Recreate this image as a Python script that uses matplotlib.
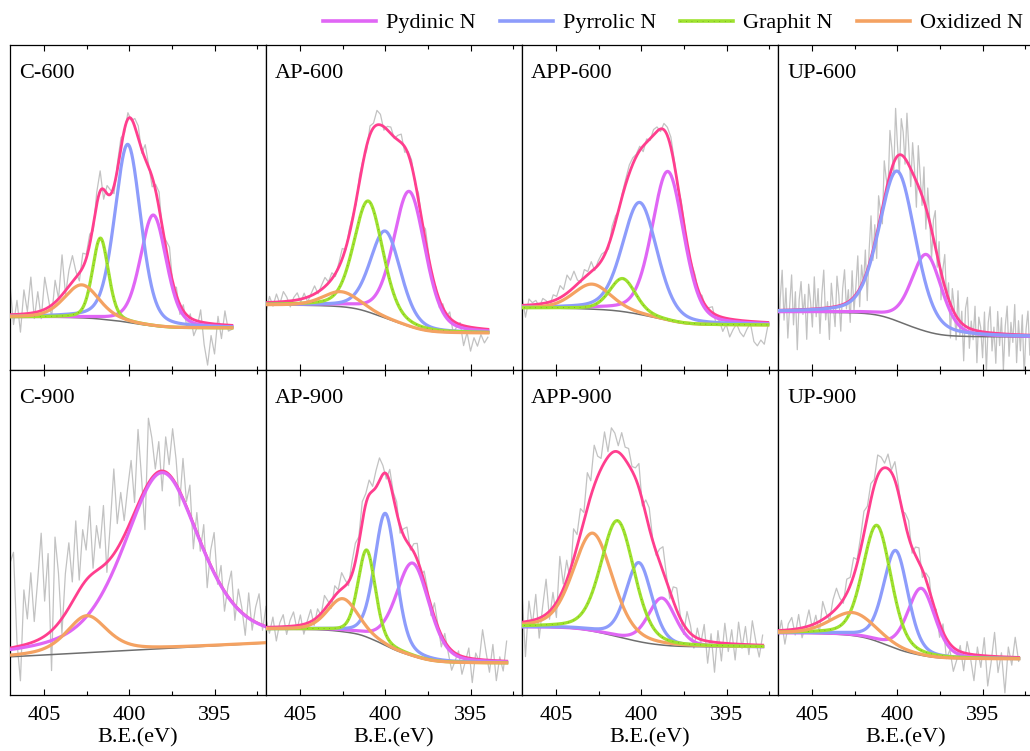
import numpy as np
import matplotlib.pyplot as plt
from matplotlib.ticker import MultipleLocator
from matplotlib.lines import Line2D

plt.rcParams['font.family'] = ['Liberation Serif', 'DejaVu Serif']
plt.rcParams['font.size'] = 16

samples = ['C-600', 'AP-600', 'APP-600', 'UP-600', 'C-900', 'AP-900', 'APP-900', 'UP-900']
comp_labels = ['Pydinic N', 'Pyrrolic N', 'Graphit N', 'Oxidized N']
comp_colors = ['#e066f5', '#8d9cfb', '#9ee22e', '#f4a262']
env_color = '#ff3e8e'

# fitted components: centre (eV), height (counts above background), fwhm (eV); height 0 = not fitted
pyd_center = [398.6, 398.6, 398.45, 398.3, 398.1, 398.4, 398.8, 398.6]
pyd_height = [111, 135, 149, 77, 176, 93, 47, 67]
pyd_fwhm = [1.8, 2.2, 2.2, 2.1, 5.3, 2.3, 1.9, 1.9]

pyr_center = [400.1, 400.0, 400.1, 400.0, 400.0, 400.0, 400.15, 400.1]
pyr_height = [178, 87, 112, 150, 0, 132, 79, 98]
pyr_fwhm = [1.8, 2.1, 2.4, 2.5, 2.0, 1.5, 1.8, 1.7]

gra_center = [401.7, 401.0, 401.1, 401.0, 401.0, 401.1, 401.4, 401.2]
gra_height = [81, 111, 33, 0, 0, 87, 116, 116]
gra_fwhm = [1.1, 2.0, 1.8, 2.0, 2.0, 1.2, 2.3, 1.95]

oxi_center = [402.8, 402.6, 402.9, 402.5, 402.5, 402.5, 402.85, 402.6]
oxi_height = [33, 15, 25, 0, 37, 33, 98, 23]
oxi_fwhm = [2.4, 2.5, 2.6, 2.0, 2.8, 2.1, 2.7, 3.1]

lor_frac = [0.3, 0.3, 0.3, 0.3, 0.5, 0.3, 0.3, 0.3]

bg_left = [53, 65, 62, 58, 38, 66, 68, 62]
bg_right = [42, 37, 45, 33, 52, 32, 48, 36]
bg_type = ['shirley', 'shirley', 'shirley', 'shirley', 'linear', 'shirley', 'shirley', 'shirley']

x_start = 407.2
x_end = [394.0, 394.0, 392.6, 391.8, 392.0, 392.9, 392.9, 392.9]

# raw spectrum = fit envelope + residuals
res_c600 = [8, 30, -10, 14, -18, 24, 2, 36, -6, 20, -8, 32, 10, -12, 22, 0, 40, -4, 16, 26,
            6, -8, 14, 4, 10, -6, 12, 20, -10, 8, 4, -8, 6, 10, -4, 6, -2, 8, 12, -4,
            14, 2, -10, 6, 16, -6, 8, 20, -4, 8, -10, 6, -12, 4, -16, -6, 12, -22, -42, -12,
            -30, 8, -14, 14, -6, -4]
res_ap600 = [2, -10, 6, -4, 8, -2, 10, 4, -6, 3, 7, -3, 5, -5, 2, 8, -2, 4, 9, 1,
             6, -3, 4, 10, -2, 5, 3, -4, 6, 2, -5, 8, 4, 14, 10, -4, 3, 6, -2, 4,
             8, -6, 2, 5, -3, 7, -4, 12, 3, -6, 2, -8, 4, -3, 6, -12, -4, 2, -20, -6,
             -24, -10, -18, -6, -14, -8]
res_app600 = [-2, 8, -12, 6, 2, 4, -3, 5, 2, -4, 6, 3, 12, 6, 18, 10, 16, 4, -2, 8,
              3, 10, -2, 4, 6, 2, -4, 8, 6, -2, 3, 5, 8, 6, 2, 4, -6, 3, -2, 5,
              4, -3, 6, 8, 10, 4, -2, 6, 3, -4, 2, 5, -3, 4, -2, 2, 6, -8, -4, -14,
              -6, -18, -10, -4, -12, -16, -8, -2, -20, -24, -18, -22, -4]
res_up600 = [-20, 30, -35, 12, 40, -10, 22, -28, 5, 35, -15, 18, -40, 10, 28, -5, 15, -30, 25, 8,
             -18, 32, -8, 20, -25, 14, 38, -12, 6, -32, 24, 2, -20, 30, 10, -26, 16, 34, -6, 12,
             -22, 28, -14, 8, 36, -18, 20, -4, 26, -30, 14, 42, -10, 18, -24, 30, 6, -16, 38, 12,
             -8, 44, 20, -12, 50, 10, -20, 36, 24, -6, 48, 16, -18, 30, 8, -26, 40, 14, -10, 34,
             -22, 26, 4, -30, 18, 36, -12, 22, -28, 10, 32, -8, 16, -34, 20, 6, -24, 28, -14, 12,
             -36, 18, 30, -20, 8, -10, 24, -32, 14, 4, -26, 20, -40, 10, 26, -18, 6, -30, 22, -12,
             16, -36, 8, 28, -22, 12, -8, 30, -28, 14, -16, 20, -42, 6, 24, -20, 10, -30, 18, -6]
res_c900 = [30, 85, 95, 5, -35, 55, 25, 70, 20, 60, 105, 35, 80, -40, 90, 50,
            -15, 40, 65, 20, 75, 10, 55, 30, 70, 5,
            45, 20, 60, -10, 35, 85, 25, 50, 15, 40,
            60, 10, 75, 20, -40, 65, 40, 5, 30, -20,
            35, 10, 50, 25, -15, 40, 5, 30, -25, 20,
            -10, 25, -30, 15, 40, -5, 20, -20, 10, 30,
            -15, 20, 5, -20, 25, -10, 15, 30, -5, 20]
res_ap900 = [-12, 8, -6, 10, -14, 4, 12, -8, 6, 14, -4, 10, -10, 2, 12, -6, 8, -2, 14, 4,
             -8, 10, 2, 16, 6, -4, 12, 18, 6, 20, 10, 14, 4, 16, 22, 8, -6, 12, 4, 10,
             -8, 6, 14, -4, 8, 16, -6, 10, 4, -10, 14, 2, -12, 8, -6, -20, -8, 4, -18, -4,
             10, -24, 6, -2, 30, 8, -12, 16, -20, 4, -10, 20]
res_app900 = [-10, 30, -35, 20, -5, 25, -20, 10, 35, -8, 15, -15, 40, 5, 20, -10, 30, 12, 25, 8,
              35, 15, 40, 20, 10, 30, 5, 25, 18, 6, 22, 12, 16, 4, 10, 24, -6, 14, 20, 2,
              -4, 12, 24, 6, -8, 14, 22, 4, -10, 18, 8, -12, 10, -4, 16, -22, 8, -30, 12, -18,
              20, -8, 14, -16, 22, -4, 18, -10, 24, 4, -12, 10]
res_up900 = [4, -8, 10, -14, 6, 12, -6, 14, -10, 2, 16, -4, 8, -12, 18, 4, -6, 12, 20, 6,
             -4, 14, 8, 18, 4, 12, 22, 10, 16, 6, 20, 12, 4, 14, 2, 18, 8, -4, 10, 16,
             -6, 8, 14, -8, 6, 12, -10, 4, -14, 8, -20, -6, -24, -10, 6, -18, 12, -4, -26, 8,
             -12, 18, -30, -6, 24, -16, 4, -36, 10, -8, 20, -4]
residuals = [res_c600, res_ap600, res_app600, res_up600, res_c900, res_ap900, res_app900, res_up900]

centers = [pyd_center, pyr_center, gra_center, oxi_center]
heights = [pyd_height, pyr_height, gra_height, oxi_height]
fwhms = [pyd_fwhm, pyr_fwhm, gra_fwhm, oxi_fwhm]


def pseudo_voigt(x, c, h, w, eta):
    u = ((x - c) / w) ** 2
    return h * ((1 - eta) * np.exp(-4 * np.log(2) * u) + eta / (1 + 4 * u))


def model(x, i):
    comps = []
    for k in range(4):
        if heights[k][i] > 0:
            comps.append(pseudo_voigt(x, centers[k][i], heights[k][i], fwhms[k][i], lor_frac[i]))
        else:
            comps.append(None)
    total = sum(p for p in comps if p is not None)
    if bg_type[i] == 'linear':
        bg = bg_left[i] + (bg_right[i] - bg_left[i]) * (x[0] - x) / (x[0] - x[-1])
    else:
        cum = np.cumsum(total[::-1])[::-1]
        bg = bg_right[i] + (bg_left[i] - bg_right[i]) * cum / cum[0]
    return bg, comps, bg + total


fig = plt.figure(figsize=(10.3, 7.51), dpi=100)
W, H = 1030.0, 751.0
dots = '#5e8a1c'

for i, name in enumerate(samples):
    row, col = i // 4, i % 4
    top = 45 + 325 * row
    ax = fig.add_axes([(10 + 256 * col) / W, 1 - (top + 325) / H, 256 / W, 325 / H])

    xr = np.linspace(x_start, x_end[i], len(residuals[i]))
    _, _, env_r = model(xr, i)
    ax.plot(xr, env_r + np.array(residuals[i]), color='#c2c2c2', lw=0.9, zorder=1)

    xf = np.linspace(x_start, x_end[i], 600)
    bg, comps, env = model(xf, i)
    ax.plot(xf, bg, color='#6e6e6e', lw=1.1, zorder=2)
    ax.plot(xf, env, color=env_color, lw=2.0, zorder=3)
    green_top = i in (2, 6)
    for k in range(4):
        if comps[k] is None:
            continue
        z = 4 + k
        if k == 2 and green_top:
            z = 8
        ax.plot(xf, bg + comps[k], color=comp_colors[k], lw=2.3, zorder=z)
        if k == 2:
            ax.plot(xf, bg + comps[k], color=dots, lw=0.5, ls=(0, (1, 7)), zorder=z + 0.1)

    ax.text(9 / 256, 1 - 28 / 325, name, transform=ax.transAxes, ha='left', va='center')

    ax.set_xlim(407, 392)
    ax.set_ylim(0, 325)
    ax.set_yticks([])
    ax.xaxis.set_major_locator(MultipleLocator(5))
    ax.xaxis.set_minor_locator(MultipleLocator(2.5))
    ax.tick_params(axis='x', which='both', direction='in', top=True, width=0.8, pad=8)
    ax.tick_params(axis='x', which='major', length=4)
    ax.tick_params(axis='x', which='minor', length=3)
    for s in ax.spines.values():
        s.set_linewidth(0.9)
    if row == 0:
        ax.tick_params(axis='x', labelbottom=False)
    else:
        ax.set_xlabel('B.E.(eV)', labelpad=2)

handles = [Line2D([], [], color=comp_colors[0], lw=2.6),
           Line2D([], [], color=comp_colors[1], lw=2.6),
           (Line2D([], [], color=comp_colors[2], lw=2.6),
            Line2D([], [], color=dots, lw=0.5, ls=(0, (1, 7)))),
           Line2D([], [], color=comp_colors[3], lw=2.6)]
fig.legend(handles, comp_labels, loc='center right', bbox_to_anchor=(1023 / W, 1 - 23 / H),
           ncol=4, frameon=False, handlelength=2.4, handletextpad=0.45, columnspacing=1.07,
           borderpad=0, borderaxespad=0)

fig.savefig('out.png', dpi=100)
